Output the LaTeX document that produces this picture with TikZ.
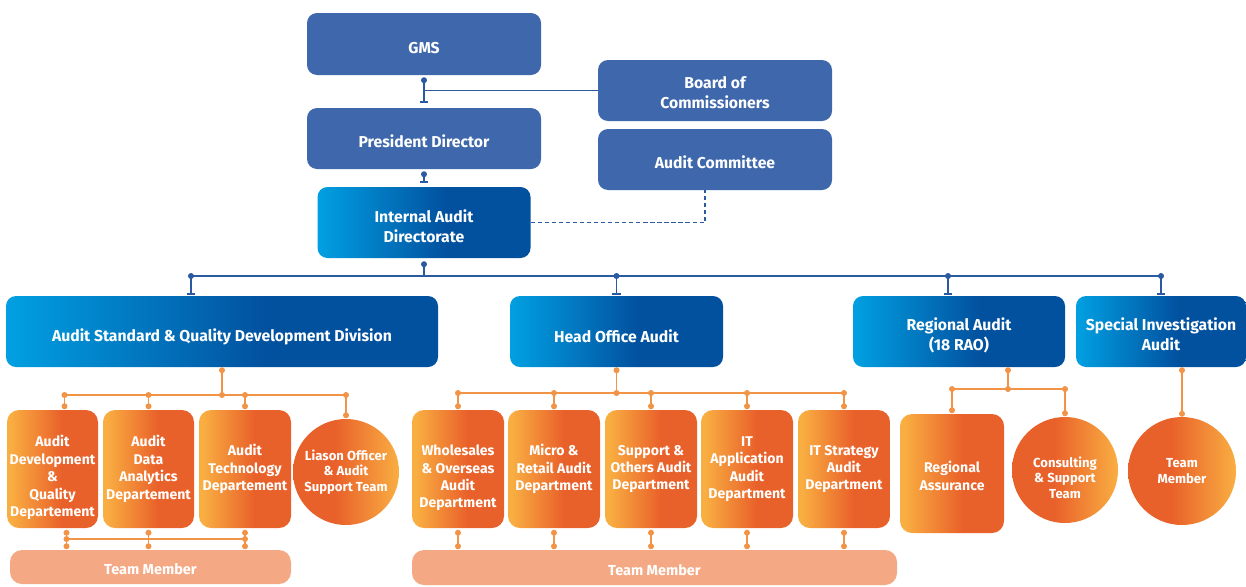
\documentclass[tikz,border=0pt]{standalone}
\usepackage{fontspec}
\setmainfont{Fira Sans}
\usetikzlibrary{arrows.meta}
\definecolor{gmsblue}{HTML}{3E68AB}
\definecolor{cyanL}{HTML}{01A0E2}
\definecolor{blueD}{HTML}{02519F}
\definecolor{lineblue}{HTML}{2A5AA0}
\definecolor{orangeL}{HTML}{F9AE42}
\definecolor{orangeD}{HTML}{E9612A}
\definecolor{salmon}{HTML}{F4A984}
\definecolor{lineorange}{HTML}{F29448}
\pgfdeclarehorizontalshading{bluegrad}{100bp}{color(0bp)=(cyanL); color(25bp)=(cyanL); color(55bp)=(blueD); color(100bp)=(blueD)}
\pgfdeclarehorizontalshading{orangegrad}{100bp}{color(0bp)=(orangeL); color(27bp)=(orangeL); color(55bp)=(orangeD); color(100bp)=(orangeD)}
\pgfdeclarehorizontalshading{orangeround}{100bp}{color(0bp)=(orangeD); color(45bp)=(orangeD); color(75bp)=(orangeL); color(100bp)=(orangeL)}
\def\px{0.025cm}
% pushes a multi-line label down by raising its first line
\newcommand{\firstup}[1]{\rule{0pt}{#1}}
\begin{document}
\begin{tikzpicture}[x=\px,y=-\px,line join=round,
  jdot/.tip={Circle[length=4.2pt]}, jbar/.tip={Bar[width=6pt,line width=0.9pt]},
  lift/.style={execute at begin node={\rule{0pt}{#1}}},
  lbl/.style={text=white,align=center,inner sep=0pt,font=\bfseries\fontsize{11.2}{14.2}\selectfont},
  topbox/.style 2 args={lbl,lift=1.2em,rectangle,rounded corners=0.25cm,fill=gmsblue,minimum width=#1*\px,minimum height=#2*\px},
  divbox/.style 2 args={lbl,lift=1.2em,rectangle,rounded corners=0.25cm,shading=bluegrad,minimum width=#1*\px,minimum height=#2*\px},
  deptbox/.style 2 args={lbl,lift=1.45em,rectangle,rounded corners=0.3cm,shading=orangegrad,minimum width=#1*\px,minimum height=#2*\px,font=\bfseries\fontsize{10}{12.4}\selectfont},
  unit/.style={lbl,lift=1.2em,circle,shading=orangeround,minimum size=#1*\px,font=\bfseries\fontsize{9.3}{11}\selectfont},
  teambar/.style 2 args={lbl,lift=1.1em,rectangle,rounded corners=0.3cm,fill=salmon,minimum width=#1*\px,minimum height=#2*\px,font=\bfseries\fontsize{10.3}{12}\selectfont},
  bline/.style={draw=lineblue,line width=0.9pt},
  oline/.style={draw=lineorange,line width=0.9pt},
  onbus/.style={shorten <=-2.1pt}]
\useasboundingbox (0,0) rectangle (1246,586);

% board level
\node[topbox={234}{62}] (gms) at (424,44) {GMS};
\node[topbox={234}{61}] (board) at (715,90.5) {\firstup{11.9pt}Board of\\Commissioners};
\node[topbox={234}{61}] (pd) at (424,138.5) {President Director};
\node[topbox={234}{61}] (ac) at (715,159.5) {Audit Committee};
\node[divbox={213}{71}] (iad) at (424,222.5) {\firstup{14.1pt}Internal Audit\\Directorate};

% divisions
\node[divbox={432}{71},lift=1.45em] (asq) at (222,331.5) {Audit Standard \& Quality Development Division};
\node[divbox={213}{71},lift=1.4em] (hoa) at (616.5,331.5) {Head Office Audit};
\node[divbox={212}{71}] (ra) at (959,331.5) {\firstup{14.8pt}Regional Audit\\(18 RAO)};
\node[divbox={170}{71}] (sia) at (1161,331.5) {\firstup{13.4pt}Special Investigation\\Audit};

% departments
\node[deptbox={91}{118}] (dev) at (52.5,469) {\firstup{20.3pt}Audit\\Development\\\&\\Quality\\Departement};
\node[deptbox={91}{118}] (dad) at (148.5,469) {Audit\\Data\\Analytics\\Departement};
\node[deptbox={92}{118}] (atd) at (245,469) {Audit\\Technology\\Departement};
\node[unit=106] (lia) at (346,472) {Liason Officer\\\& Audit\\Support Team};
\foreach \n/\x/\t in {whs/458/{\firstup{20.3pt}Wholesales\\\& Overseas\\Audit\\Department},
    mra/554/{Micro \&\\Retail Audit\\Department},
    soa/651/{Support \&\\Others Audit\\Department},
    ita/747/{IT\\Application\\Audit\\Department},
    its/844/{IT Strategy\\Audit\\Department}}
  \node[deptbox={92}{118}] (\n) at (\x,469) {\t};
\node[deptbox={104}{119}] (rass) at (952,473.5) {\firstup{11.8pt}Regional\\Assurance};
\node[unit=106] (cst) at (1065,470) {\firstup{18.3pt}Consulting\\\& Support\\Team};
\node[unit=108] (tmc) at (1182,471) {Team\\Member};
\node[teambar={281}{34}] (tm1) at (150.5,567) {Team Member};
\node[teambar={485}{35}] (tm2) at (654.5,567.5) {Team Member};

% blue links
\draw[bline,jdot-jbar,shorten <=2*\px,shorten >=5*\px] (gms) -- (pd);
\draw[bline] (board.west) -- (board.west -| gms.south);
\draw[bline,jdot-jbar,shorten <=2*\px,shorten >=4*\px] (pd) -- (iad);
\draw[bline,dash pattern=on 3pt off 2pt] (iad.east) -| ([xshift=-10*\px]ac.south);
\coordinate (bus) at (0,276);
\draw[bline,jdot-,shorten <=3*\px] (iad.south) -- (iad.south |- bus);
\draw[bline] ([xshift=-31*\px]asq.north |- bus) -- (sia.north |- bus);
\foreach \n/\dx in {asq/-31,hoa/0,ra/-11,sia/0}
  \draw[bline,onbus,jdot-jbar,shorten >=1*\px] ([xshift=\dx*\px]\n.north |- bus) -- ([xshift=\dx*\px]\n.north);

% orange links
\coordinate (obus1) at (0,395);
\draw[oline,jdot-jdot,shorten >=-2.1pt] (asq.south) -- (asq.south |- obus1);
\draw[oline] ([xshift=12*\px]dev.north |- obus1) -- (lia.north |- obus1);
\foreach \n/\dx in {dev/12,dad/0,atd/0,lia/0}
  \draw[oline,onbus,jdot-jdot,shorten >=0.5*\px] ([xshift=\dx*\px]\n.north |- obus1) -- ([xshift=\dx*\px]\n.north);
\coordinate (obus2) at (0,539);
\foreach \n/\dx in {dev/14,dad/0,atd/0}
  \draw[oline,jdot-jdot,shorten <=1.5*\px,shorten >=0.5*\px] ([xshift=\dx*\px]\n.south) -- ([xshift=\dx*\px]\n.south |- tm1.north);
\draw[oline,jdot-jdot,onbus,shorten >=-2.1pt] ([xshift=14*\px]dev.south |- obus2) -- (atd.south |- obus2);

\coordinate (obus3) at (0,393);
\draw[oline,jdot-jdot,shorten >=-2.1pt] (hoa.south) -- (hoa.south |- obus3);
\draw[oline] (whs.north |- obus3) -- (its.north |- obus3);
\foreach \n in {whs,mra,soa,ita,its}{
  \draw[oline,onbus,jdot-jdot,shorten >=0.5*\px] (\n.north |- obus3) -- (\n.north);
  \draw[oline,jdot-jdot,shorten <=1.5*\px,shorten >=0.5*\px] (\n.south) -- (\n.south |- tm2.north);
}

\coordinate (obus4) at (0,389);
\draw[oline,jdot-jdot,shorten >=-2.1pt] ([xshift=49*\px]ra.south) -- ([xshift=49*\px]ra.south |- obus4);
\draw[oline] (rass.north |- obus4) -- (cst.north |- obus4);
\foreach \n in {rass,cst}
  \draw[oline,onbus,jdot-jdot,shorten >=0.5*\px] (\n.north |- obus4) -- (\n.north);
\draw[oline,jdot-jdot] (tmc.north |- sia.south) -- (tmc.north);
\end{tikzpicture}
\end{document}
